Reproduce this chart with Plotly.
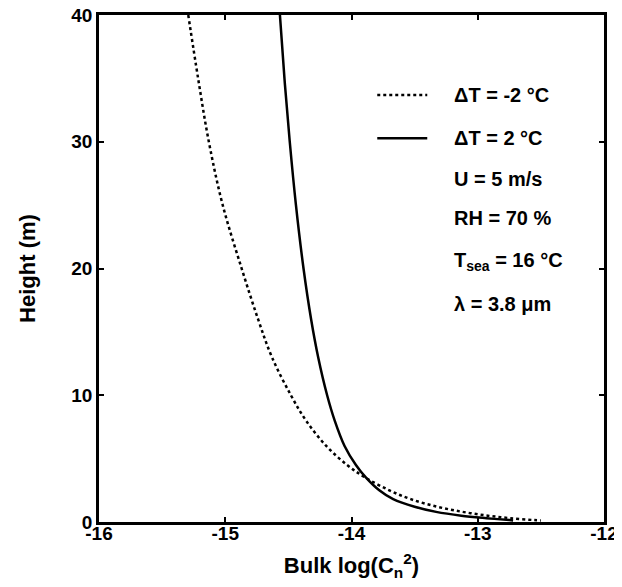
import plotly.graph_objects as go

# heights (m)
height = [40, 35, 30, 25, 20, 16, 13, 10, 8, 6, 4.5, 3.5, 2.5, 1.8, 1.2, 0.8, 0.5, 0.3, 0.15, 0.12]

# bulk log(Cn^2) for dT = -2 C (dotted) and dT = 2 C (solid)
cn2_cold = [-15.293, -15.215, -15.13, -15.02, -14.87, -14.74, -14.63, -14.48, -14.36, -14.20,
            -14.035, -13.89, -13.70, -13.53, -13.32, -13.12, -12.92, -12.74, -12.55, -12.50]
cn2_warm = [-14.567, -14.531, -14.489, -14.44, -14.38, -14.32, -14.264, -14.193, -14.133, -14.055,
            -13.965, -13.885, -13.78, -13.67, -13.50, -13.33, -13.13, -12.93, -12.75, -12.72]

x_ticks = [-16, -15, -14, -13, -12]
y_ticks = [0, 10, 20, 30, 40]

legend_labels = ["\u0394T = -2 \u00b0C", "\u0394T = 2 \u00b0C"]
info_labels = ["U = 5 m/s", "RH = 70 %", "T<sub>sea</sub> = 16 \u00b0C", "\u03bb = 3.8 \u03bcm"]

FONT = "Liberation Sans"

fig = go.Figure()
fig.add_trace(go.Scatter(x=cn2_cold, y=height, mode="lines", line_shape="spline",
                         line=dict(color="black", width=2.5, dash="dot"), showlegend=False))
fig.add_trace(go.Scatter(x=cn2_warm, y=height, mode="lines", line_shape="spline",
                         line=dict(color="black", width=2.5), showlegend=False))

# legend-like text block
rows_y = [0.842, 0.757, 0.677, 0.60, 0.513, 0.43]
fig.add_shape(type="line", xref="paper", yref="paper", x0=0.551, x1=0.65, y0=rows_y[0], y1=rows_y[0],
              line=dict(color="black", width=2.5, dash="dot"))
fig.add_shape(type="line", xref="paper", yref="paper", x0=0.551, x1=0.65, y0=rows_y[1], y1=rows_y[1],
              line=dict(color="black", width=2.5))
for txt, yy in zip(legend_labels + info_labels, rows_y):
    fig.add_annotation(text=txt, xref="paper", yref="paper", x=0.699, y=yy, xanchor="left",
                       yanchor="middle", showarrow=False,
                       font=dict(family=FONT, size=20, color="black", weight="bold"))

axis_common = dict(showline=True, linecolor="black", linewidth=2.5, mirror="ticks",
                   ticks="inside", ticklen=5, tickwidth=2, tickcolor="black",
                   showgrid=False, zeroline=False, automargin=False,
                   ticklabeloverflow="allow",
                   tickfont=dict(family=FONT, size=19, color="black", weight="bold"))

fig.update_xaxes(range=[-16, -12], tickvals=x_ticks, ticktext=[str(v) for v in x_ticks],
                 ticklabelstandoff=-8,
                 title=dict(text="Bulk log(C<sub>n</sub><sup>2</sup>)", standoff=16,
                            font=dict(family=FONT, size=22, color="black", weight="bold")),
                 **axis_common)
fig.update_yaxes(range=[0, 40], tickvals=y_ticks, ticktext=[str(v) for v in y_ticks],
                 title=dict(text="Height (m)", standoff=30,
                            font=dict(family=FONT, size=22, color="black", weight="bold")),
                 **axis_common)

# page body adds an 8px offset, so the figure is 8px smaller than the window
fig.update_layout(width=614, height=579, margin=dict(l=91, r=18, t=7, b=65),
                  plot_bgcolor="white", paper_bgcolor="white")

fig.write_html("out.html")
